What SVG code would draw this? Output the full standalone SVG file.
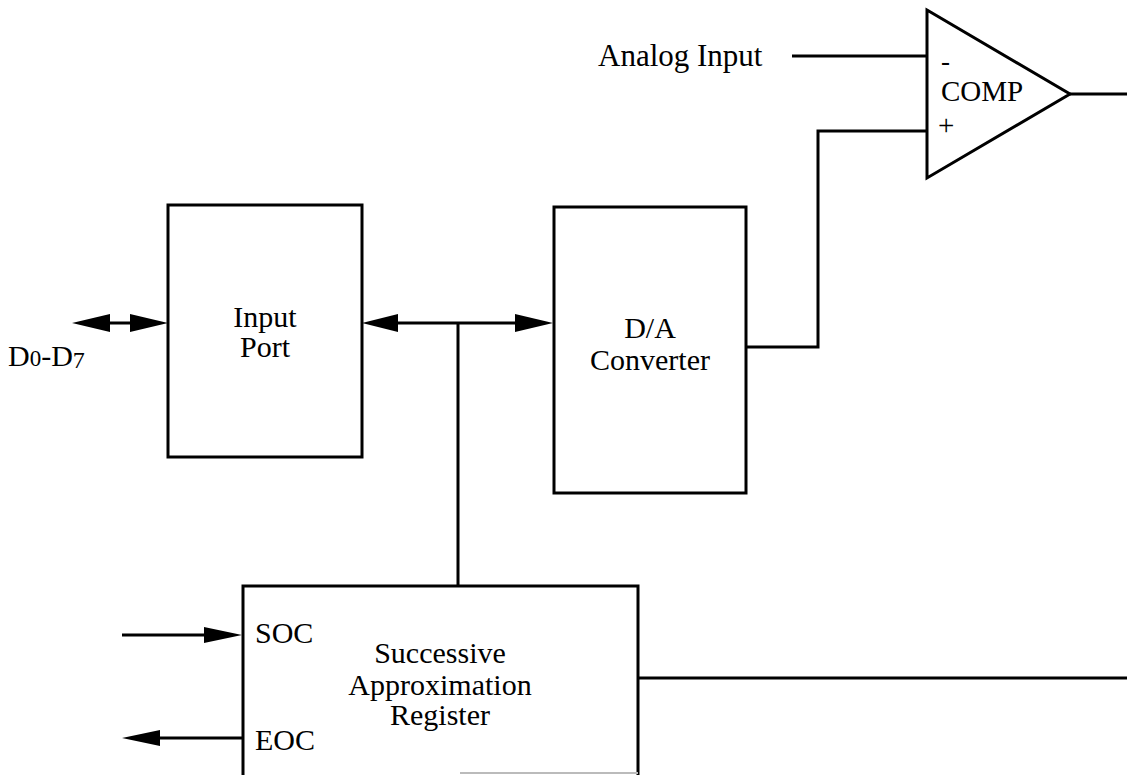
<svg xmlns="http://www.w3.org/2000/svg" width="1127" height="775" viewBox="0 0 1127 775">
<style>
.box{fill:#fff;stroke:#000;stroke-width:3}
.ln{fill:none;stroke:#000;stroke-width:3}
.ah{fill:#000;stroke:none}
text{font-family:"Liberation Serif","Times New Roman",serif;fill:#000}
.t{font-size:30px}
.c{text-anchor:middle}
</style>
<rect width="1127" height="775" fill="#fff"/>
<g id="connectors">
  <line class="ln" x1="100" y1="323" x2="140" y2="323"/>
  <polygon class="ah" points="72,323 110,314 110,332"/>
  <polygon class="ah" points="168,323 130,314 130,332"/>
  <line class="ln" x1="390" y1="323" x2="525" y2="323"/>
  <polygon class="ah" points="362,323 398,314 398,332"/>
  <polygon class="ah" points="553,323 515,314 515,332"/>
  <line class="ln" x1="458" y1="323" x2="458" y2="586"/>
  <polyline class="ln" points="746,347 818,347 818,131 927,131"/>
  <line class="ln" x1="792" y1="56" x2="927" y2="56"/>
  <line class="ln" x1="1070" y1="94" x2="1127" y2="94"/>
  <line class="ln" x1="638" y1="678" x2="1127" y2="678"/>
  <line class="ln" x1="122" y1="635" x2="215" y2="635"/>
  <polygon class="ah" points="242,635 204,627 204,643"/>
  <line class="ln" x1="150" y1="738" x2="242" y2="738"/>
  <polygon class="ah" points="122,738 160,730 160,746"/>
</g>
<g id="d0d7">
  <text x="8" y="366" font-size="30">D<tspan font-size="23">0</tspan>-D<tspan font-size="24" dy="2">7</tspan></text>
</g>
<g id="input-port">
  <rect class="box" x="168" y="205" width="194" height="252"/>
  <text class="t c" x="265" y="327">Input</text>
  <text class="t c" x="265" y="357">Port</text>
</g>
<g id="da-converter">
  <rect class="box" x="554" y="207" width="192" height="286"/>
  <text class="t c" x="650" y="338">D/A</text>
  <text class="t c" x="650" y="370">Converter</text>
</g>
<g id="comparator">
  <polygon class="ln" points="927,10 1070,94 927,178"/>
  <text x="941" y="70" font-size="27">-</text>
  <text x="941" y="101" font-size="29">COMP</text>
  <text x="938" y="135" font-size="29">+</text>
</g>
<g id="analog-input">
  <text x="598" y="66" font-size="31">Analog Input</text>
</g>
<g id="sar">
  <rect x="243" y="586" width="395" height="187" fill="#fff" stroke="none"/>
  <polyline class="ln" points="243,775 243,586 638,586 638,775"/>
  <line x1="460" y1="773" x2="638" y2="773" stroke="#bbb" stroke-width="2"/>
  <text class="t" x="255" y="643">SOC</text>
  <text class="t" x="255" y="750">EOC</text>
  <text class="t c" x="440" y="663">Successive</text>
  <text class="t c" x="440" y="695">Approximation</text>
  <text class="t c" x="440" y="725">Register</text>
</g>
</svg>
